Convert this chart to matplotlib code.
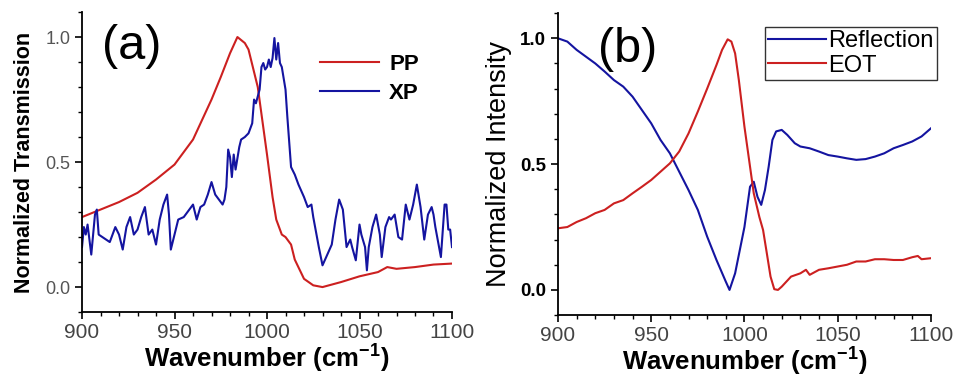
import matplotlib
matplotlib.use('Agg')
import matplotlib.pyplot as plt
from matplotlib.ticker import MultipleLocator

plt.rcParams['font.family'] = ['Liberation Sans', 'DejaVu Sans']
plt.rcParams['mathtext.fontset'] = 'custom'
plt.rcParams['mathtext.rm'] = 'Liberation Sans'
plt.rcParams['mathtext.bf'] = 'Liberation Sans:bold'

# panel (a): PP and XP transmission
pp_x = [900, 910, 920, 930, 940, 950, 960, 970, 975, 980, 984, 988, 990, 995,
        1000, 1003, 1005, 1008, 1010, 1013, 1015, 1020, 1025, 1030, 1040,
        1050, 1060, 1065, 1070, 1080, 1090, 1100]
pp_y = [0.28, 0.31, 0.34, 0.377, 0.43, 0.49, 0.59, 0.75, 0.84, 0.935, 1.0,
        0.976, 0.95, 0.80, 0.53, 0.36, 0.27, 0.21, 0.20, 0.17, 0.11, 0.033,
        0.007, 0.0, 0.02, 0.043, 0.06, 0.08, 0.073, 0.08, 0.09, 0.094]

xp_x = [900, 901, 902, 903, 905, 907, 908, 909, 911, 913, 915, 918, 920, 922,
        924, 926, 928, 930, 932, 934, 936, 938, 940, 942, 944, 946, 947, 948,
        950, 952, 955, 958, 960, 962, 964, 966, 968, 970, 972, 974, 976, 977,
        978, 979, 980, 981, 982, 983, 985, 986, 988, 990, 992, 993, 994, 996,
        997, 998, 999, 1000, 1001, 1002, 1003, 1004, 1005, 1006, 1007, 1008,
        1010, 1011, 1013, 1015, 1017, 1020, 1022, 1024, 1025, 1028, 1030,
        1032, 1035, 1037, 1039, 1041, 1043, 1045, 1046, 1048, 1050, 1051,
        1053, 1054, 1055, 1057, 1059, 1061, 1062, 1064, 1066, 1067, 1069,
        1071, 1073, 1075, 1077, 1079, 1081, 1083, 1085, 1087, 1089, 1090,
        1091, 1093, 1094, 1096, 1097, 1098, 1099, 1100]
xp_y = [0.16, 0.24, 0.21, 0.25, 0.13, 0.29, 0.31, 0.21, 0.20, 0.19, 0.18,
        0.24, 0.21, 0.15, 0.24, 0.28, 0.21, 0.23, 0.28, 0.32, 0.21, 0.23,
        0.17, 0.27, 0.33, 0.37, 0.29, 0.15, 0.21, 0.27, 0.28, 0.31, 0.33,
        0.27, 0.32, 0.33, 0.37, 0.42, 0.37, 0.35, 0.33, 0.35, 0.40, 0.55,
        0.52, 0.44, 0.53, 0.47, 0.56, 0.59, 0.60, 0.615, 0.655, 0.75, 0.735,
        0.79, 0.88, 0.896, 0.87, 0.88, 0.91, 0.88, 0.916, 0.996, 0.91, 0.976,
        0.896, 0.88, 0.79, 0.68, 0.48, 0.45, 0.41, 0.36, 0.32, 0.33, 0.28,
        0.16, 0.087, 0.12, 0.17, 0.27, 0.35, 0.31, 0.16, 0.19, 0.16, 0.107,
        0.25, 0.21, 0.16, 0.067, 0.16, 0.24, 0.29, 0.21, 0.12, 0.24, 0.28,
        0.27, 0.29, 0.20, 0.19, 0.33, 0.27, 0.33, 0.41, 0.32, 0.19, 0.29,
        0.32, 0.29, 0.24, 0.16, 0.12, 0.33, 0.33, 0.23, 0.23, 0.16]

# panel (b): reflection and EOT
refl_x = [900, 905, 910, 915, 920, 925, 930, 935, 940, 945, 950, 955, 960,
          965, 970, 975, 980, 985, 990, 992, 995, 1000, 1003, 1005, 1007,
          1009, 1011, 1013, 1015, 1017, 1020, 1023, 1027, 1030, 1035, 1040,
          1045, 1050, 1055, 1060, 1065, 1070, 1075, 1080, 1085, 1090, 1095,
          1100]
refl_y = [1.0, 0.987, 0.954, 0.927, 0.90, 0.868, 0.834, 0.808, 0.768, 0.715,
          0.662, 0.596, 0.543, 0.47, 0.397, 0.318, 0.212, 0.119, 0.033, 0.0,
          0.066, 0.25, 0.41, 0.43, 0.37, 0.338, 0.397, 0.49, 0.596, 0.63,
          0.636, 0.616, 0.583, 0.57, 0.563, 0.55, 0.536, 0.53, 0.523, 0.517,
          0.52, 0.53, 0.543, 0.563, 0.576, 0.59, 0.61, 0.642]

eot_x = [900, 905, 910, 915, 920, 925, 930, 935, 940, 945, 950, 955, 960, 965,
         970, 975, 980, 985, 988, 991, 993, 995, 997, 1000, 1003, 1005, 1008,
         1010, 1012, 1014, 1016, 1018, 1020, 1025, 1030, 1033, 1035, 1040,
         1045, 1050, 1055, 1060, 1065, 1070, 1075, 1080, 1085, 1090, 1093,
         1095, 1100]
eot_y = [0.245, 0.25, 0.27, 0.285, 0.305, 0.318, 0.344, 0.357, 0.384, 0.41,
         0.437, 0.47, 0.503, 0.55, 0.622, 0.709, 0.80, 0.894, 0.954, 0.996,
         0.987, 0.94, 0.834, 0.649, 0.49, 0.384, 0.29, 0.238, 0.146, 0.053,
         0.003, 0.0, 0.013, 0.053, 0.066, 0.08, 0.06, 0.08, 0.086, 0.093,
         0.1, 0.113, 0.113, 0.122, 0.122, 0.119, 0.119, 0.13, 0.135, 0.122,
         0.126]

RED = '#cc2020'
BLUE = '#1414a0'

fig = plt.figure(figsize=(9.56, 3.76), dpi=100)
ax1 = fig.add_axes([0.0858, 0.170, 0.387, 0.798])
ax2 = fig.add_axes([0.5837, 0.162, 0.390, 0.803])

for ax in (ax1, ax2):
    ax.set_xlim(900, 1100)
    ax.set_ylim(-0.1, 1.1)
    ax.spines['top'].set_visible(False)
    ax.spines['right'].set_visible(False)
    for s in ('left', 'bottom'):
        ax.spines[s].set_linewidth(1.3)
    ax.xaxis.set_major_locator(MultipleLocator(50))
    ax.xaxis.set_minor_locator(MultipleLocator(10))
    ax.yaxis.set_major_locator(MultipleLocator(0.5))
    ax.yaxis.set_minor_locator(MultipleLocator(0.1))
    ax.tick_params(which='major', direction='out', length=5, width=1.2)
    ax.tick_params(which='minor', direction='out', length=3, width=1.0)
    ax.tick_params(axis='x', labelsize=15, labelcolor='#444444', pad=3)
    ax.set_yticks([0.0, 0.5, 1.0])
    ax.set_yticklabels(['0.0', '0.5', '1.0'])
    ax.set_xlabel(r'Wavenumber (cm$^{\mathregular{-1}}$)', fontsize=18.5,
                  fontweight='bold', labelpad=-1)

ax1.plot(pp_x, pp_y, color=RED, lw=1.5, label='PP')
ax1.plot(xp_x, xp_y, color=BLUE, lw=1.5, label='XP')
ax1.tick_params(axis='y', labelsize=13, labelcolor='#555555')
ax1.set_ylabel('Normalized Transmission', fontsize=15.5, fontweight='bold',
               labelpad=7)
ax1.text(0.135, 0.885, '(a)', transform=ax1.transAxes, fontsize=35,
         ha='center', va='center')
leg1 = ax1.legend(loc='upper left', bbox_to_anchor=(0.62, 0.89), frameon=False,
                  fontsize=16, handlelength=2.65, handletextpad=0.45,
                  labelspacing=0.35, borderaxespad=0)
for t in leg1.get_texts():
    t.set_fontweight('bold')

ax2.plot(refl_x, refl_y, color=BLUE, lw=1.5, label='Reflection')
ax2.plot(eot_x, eot_y, color=RED, lw=1.5, label='EOT')
ax2.tick_params(axis='y', labelsize=13.5)
for t in ax2.get_yticklabels():
    t.set_fontweight('bold')
ax2.set_ylabel('Normalized Intensity', fontsize=19.5, labelpad=6)
ax2.text(0.188, 0.88, '(b)', transform=ax2.transAxes, fontsize=35,
         ha='center', va='center')
leg2 = ax2.legend(loc='upper right', bbox_to_anchor=(1.017, 0.955),
                  frameon=True, fancybox=False, edgecolor='black',
                  fontsize=17, handlelength=2.45, handletextpad=0.1,
                  labelspacing=0.1, borderpad=0.15, borderaxespad=0)
leg2.get_frame().set_linewidth(1.0)

fig.savefig('out.png', dpi=100)
